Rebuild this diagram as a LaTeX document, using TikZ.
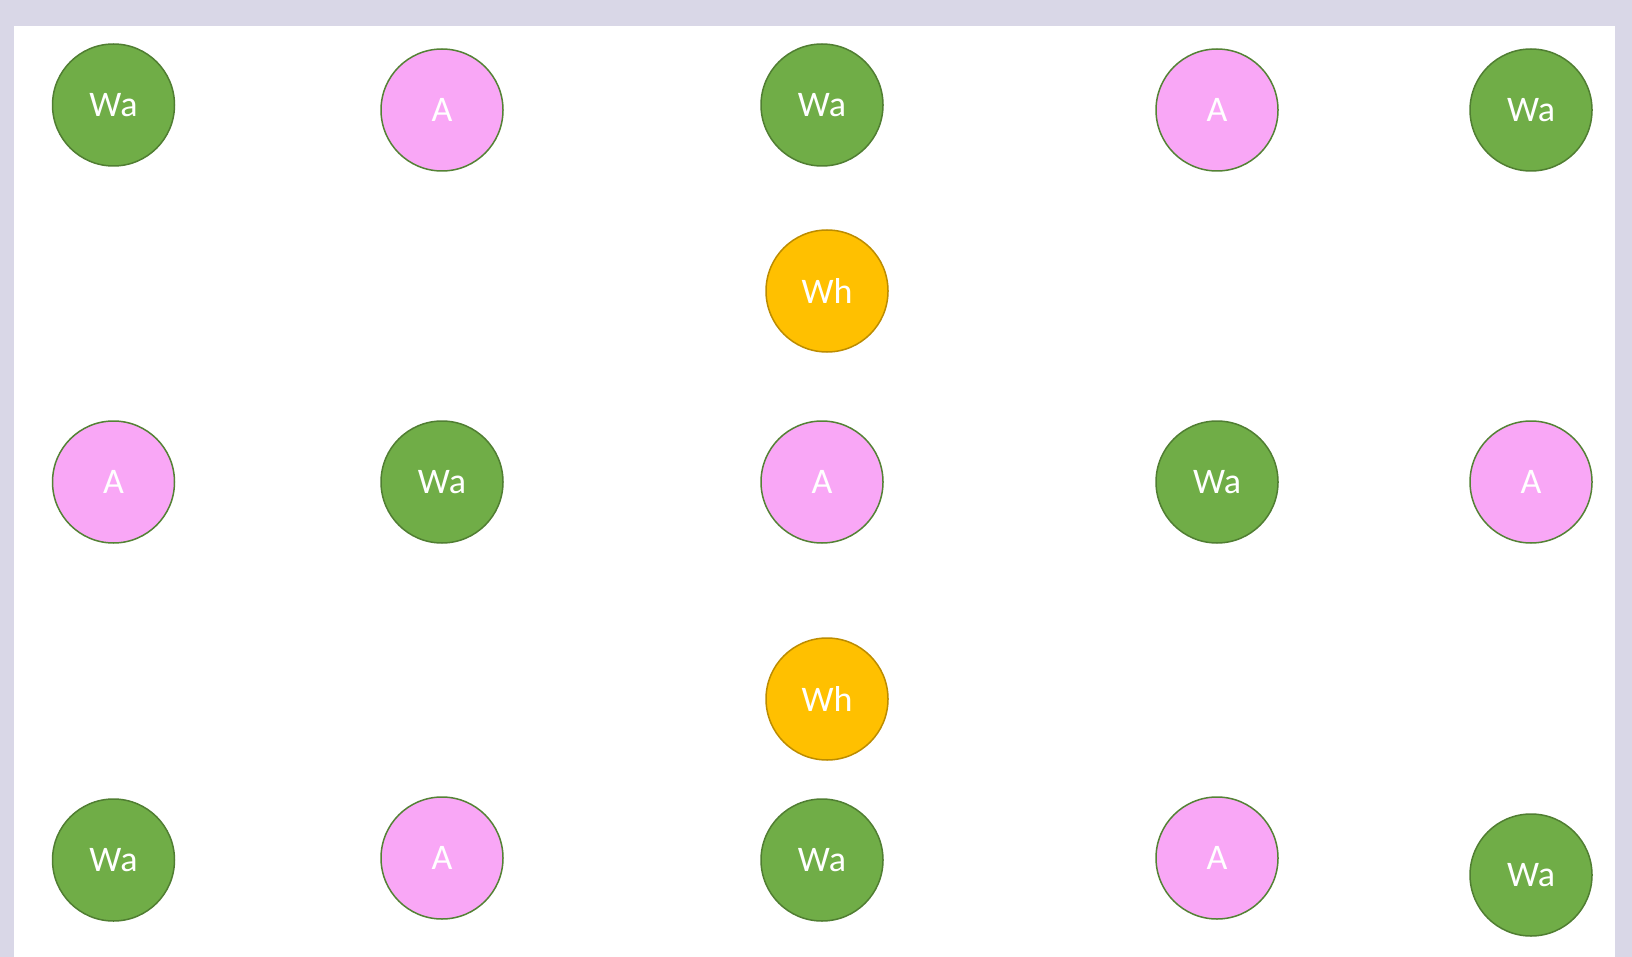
\documentclass[tikz,border=0pt]{standalone}
\usepackage{fontspec}
\setmainfont{Carlito}
\definecolor{frame}{HTML}{D9D7E7}
\definecolor{wagreen}{HTML}{70AD47}
\definecolor{waedge}{HTML}{507E32}
\definecolor{apink}{HTML}{F9A7F6}
\definecolor{aedge}{HTML}{548235}
\definecolor{whgold}{HTML}{FFC000}
\definecolor{whedge}{HTML}{BC8C00}
\begin{document}
\begin{tikzpicture}[x=1pt, y=-1pt, every node/.style={circle, line width=1.5pt, inner sep=0pt, minimum size=122pt, text=white, font=\fontsize{36}{43}\selectfont},
  wa/.style={fill=wagreen, draw=waedge},
  ap/.style={fill=apink, draw=aedge},
  wh/.style={fill=whgold, draw=whedge}]

     % Fondo y marco
     \fill[frame] (0,0) rectangle (1632,957);
     \fill[white] (14,26) rectangle (1615,957);
     \useasboundingbox (0,0) rectangle (1632,957);

     % Fila superior
     \node[wa] (wa1) at (113.5,105) {Wa};
     \node[ap] (a1) at (442,110) {A};
     \node[wa] (wa2) at (822,105) {Wa};
     \node[ap] (a2) at (1217,110) {A};
     \node[wa] (wa3) at (1531,110) {Wa};

     % Primer Wh
     \node[wh] (wh1) at (827,291) {Wh};

     % Fila central
     \node[ap] (a3) at (113.5,482) {A};
     \node[wa] (wa4) at (442,482) {Wa};
     \node[ap] (a4) at (822,482) {A};
     \node[wa] (wa5) at (1217,482) {Wa};
     \node[ap] (a5) at (1531,482) {A};

     % Segundo Wh
     \node[wh] (wh2) at (827,699) {Wh};

     % Fila inferior
     \node[wa] (wa6) at (113.5,860) {Wa};
     \node[ap] (a6) at (442,858) {A};
     \node[wa] (wa7) at (822,860) {Wa};
     \node[ap] (a7) at (1217,858) {A};
     \node[wa] (wa8) at (1531,875) {Wa};

   \end{tikzpicture}
\end{document}
